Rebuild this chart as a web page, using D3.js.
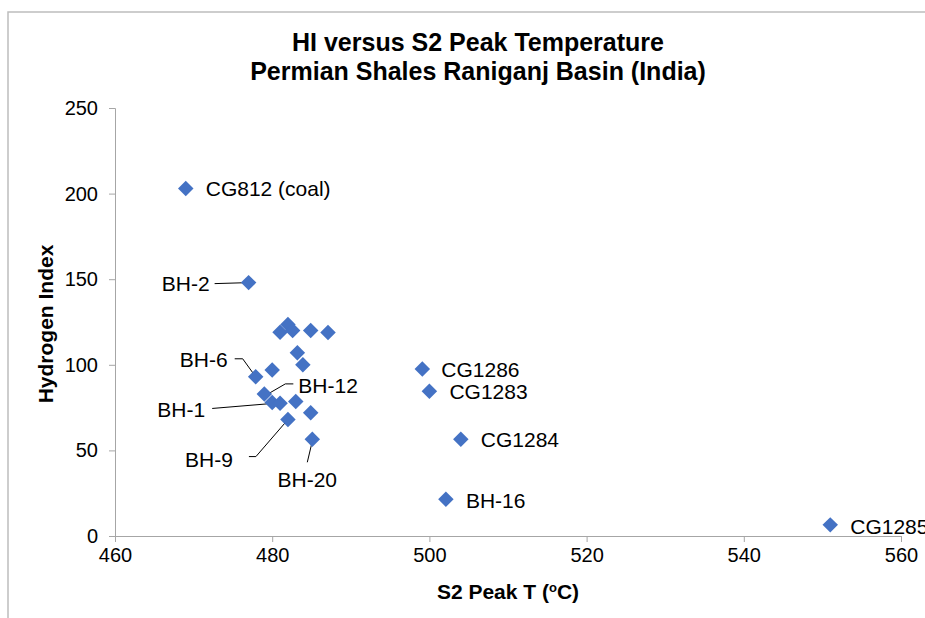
<!DOCTYPE html>
<html>
<head>
<meta charset="utf-8">
<script src="https://cdn.jsdelivr.net/npm/d3@7"></script>
<style>
    body { margin: 0; background: #fff; }
    svg { display: block; font-family: "Liberation Sans", Arial, sans-serif; }
</style>
</head>
<body>
<div id="chart"></div>
<script>
// S2 peak temperature (°C) and hydrogen index per sample
const s2PeakT = [469, 477, 481, 482, 482.6, 484.9, 487.1, 483.2, 483.9, 480, 477.9, 479, 480, 481, 483, 484.9, 482, 485.1, 499.1, 500, 504, 502.1, 551];
const hydrogenIndex = [203, 148, 119, 123.5, 120, 120, 118.8, 107, 100, 97, 93, 83, 78, 77.5, 78.5, 72, 68, 56.5, 97.5, 84.5, 56.5, 21.5, 6.5];
const sampleLabels = ["CG812 (coal)", "BH-2", "", "", "", "", "", "", "", "", "BH-6", "BH-12", "BH-1", "", "", "", "BH-9", "BH-20", "CG1286", "CG1283", "CG1284", "BH-16", "CG1285"];

const xTicks = [460, 480, 500, 520, 540, 560];
const yTicks = [0, 50, 100, 150, 200, 250];

// where each label sits relative to its point (pixels), and its leader line
const labelLayout = {
    "CG812 (coal)": { dx: 20, dy: 8, anchor: "start" },
    "BH-2": { dx: -39, dy: 8, anchor: "end", leader: [[-34, 1], [0, 0]] },
    "BH-6": { dx: -28, dy: -10, anchor: "end", leader: [[-21, -18], [-13, -18], [0, 0]] },
    "BH-12": { dx: 34, dy: -1, anchor: "start", leader: [[29, -10], [21, -10], [2, 1]] },
    "BH-1": { dx: -67, dy: 15, anchor: "end", leader: [[-60, 6], [0, 1]] },
    "BH-9": { dx: -55, dy: 47, anchor: "end", leader: [[-39, 37], [-32, 37], [0, 0]] },
    "BH-20": { dx: -5, dy: 48, anchor: "middle", leader: [[-5, 23], [0, 2]] },
    "CG1286": { dx: 19, dy: 8, anchor: "start" },
    "CG1283": { dx: 20, dy: 8, anchor: "start" },
    "CG1284": { dx: 20, dy: 8, anchor: "start" },
    "BH-16": { dx: 20, dy: 9, anchor: "start" },
    "CG1285": { dx: 20, dy: 9, anchor: "start" }
};

function drawChart() {
    const width = 925;
    const height = 618;
    const plot = { left: 115, right: 901, top: 108, bottom: 536 };

    const points = s2PeakT.map((t, i) => ({ t: t, hi: hydrogenIndex[i], label: sampleLabels[i] }));

    const svg = d3.select("#chart")
        .append("svg")
        .attr("width", width)
        .attr("height", height);

    // chart area frame (runs off the right and bottom of the picture)
    svg.append("rect")
        .attr("x", 8)
        .attr("y", 12)
        .attr("width", 1000)
        .attr("height", 700)
        .attr("fill", "none")
        .attr("stroke", "#bdbdbd")
        .attr("stroke-width", 1.5);

    const x = d3.scaleLinear()
        .domain([460, 560])
        .range([plot.left, plot.right]);

    const y = d3.scaleLinear()
        .domain([0, 250])
        .range([plot.bottom, plot.top]);

    svg.append("g")
        .attr("transform", `translate(0,${plot.bottom})`)
        .call(d3.axisBottom(x).tickValues(xTicks).tickSize(6).tickPadding(6))
        .call(g => g.selectAll("path, line").attr("stroke", "#a6a6a6"))
        .call(g => g.selectAll("text")
            .attr("fill", "#000")
            .style("font-size", "20px")
            .style("font-family", "Liberation Sans, Arial, sans-serif"));

    svg.append("g")
        .attr("transform", `translate(${plot.left},0)`)
        .call(d3.axisLeft(y).tickValues(yTicks).tickSize(6).tickPadding(11))
        .call(g => g.selectAll("path, line").attr("stroke", "#a6a6a6"))
        .call(g => g.selectAll("text")
            .attr("fill", "#000")
            .style("font-size", "20px")
            .style("font-family", "Liberation Sans, Arial, sans-serif"));

    // title
    const title = svg.append("text")
        .attr("text-anchor", "middle")
        .style("font-size", "25px")
        .style("font-weight", "bold");
    title.append("tspan").attr("x", 478).attr("y", 51).text("HI versus S2 Peak Temperature");
    title.append("tspan").attr("x", 478).attr("y", 80).text("Permian Shales Raniganj Basin (India)");

    // axis titles
    const xTitle = svg.append("text")
        .attr("x", 508)
        .attr("y", 599)
        .attr("text-anchor", "middle")
        .style("font-size", "21px")
        .style("font-weight", "bold");
    xTitle.append("tspan").text("S2 Peak T (");
    xTitle.append("tspan").attr("baseline-shift", "super").style("font-size", "13px").text("o");
    xTitle.append("tspan").text("C)");

    svg.append("text")
        .attr("transform", `translate(53,324) rotate(-90)`)
        .attr("text-anchor", "middle")
        .style("font-size", "21px")
        .style("font-weight", "bold")
        .text("Hydrogen Index");

    // leader lines
    const leaderLine = d3.line();
    points.filter(d => d.label && labelLayout[d.label].leader).forEach(d => {
        const px = x(d.t), py = y(d.hi);
        svg.append("path")
            .attr("fill", "none")
            .attr("stroke", "#000")
            .attr("stroke-width", 1)
            .attr("d", leaderLine(labelLayout[d.label].leader.map(p => [px + p[0], py + p[1]])));
    });

    // diamond markers
    svg.append("g")
        .selectAll("path")
        .data(points)
        .join("path")
        .attr("d", d3.symbol().type(d3.symbolSquare).size(120))
        .attr("transform", d => `translate(${x(d.t)},${y(d.hi)}) rotate(45)`)
        .attr("fill", "#4472c4");

    // point labels
    svg.append("g")
        .selectAll("text")
        .data(points.filter(d => d.label))
        .join("text")
        .attr("x", d => x(d.t) + labelLayout[d.label].dx)
        .attr("y", d => y(d.hi) + labelLayout[d.label].dy)
        .attr("text-anchor", d => labelLayout[d.label].anchor)
        .style("font-size", "21px")
        .text(d => d.label);
}

drawChart();
</script>
</body>
</html>
